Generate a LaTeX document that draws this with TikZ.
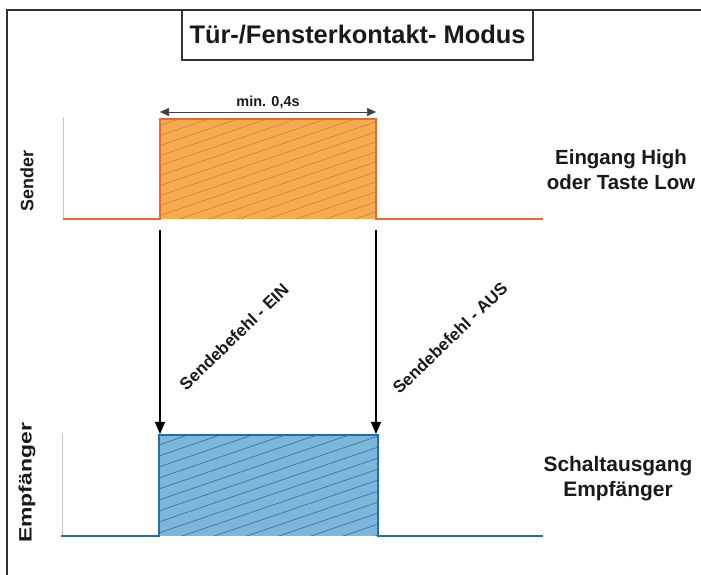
\documentclass[tikz,border=0pt]{standalone}
\usepackage{fontspec}
\setmainfont{Liberation Sans}
\usetikzlibrary{arrows.meta}
\definecolor{ofill}{RGB}{245,172,80}
\definecolor{oline}{RGB}{232,105,45}
\definecolor{ohatch}{RGB}{225,120,40}
\definecolor{bfill}{RGB}{125,182,216}
\definecolor{bline}{RGB}{35,110,170}
\definecolor{framec}{RGB}{50,50,50}
\definecolor{axisc}{RGB}{200,200,200}
\definecolor{txtc}{RGB}{25,25,25}
\tikzset{
  lbl/.style={font=\bfseries\fontsize{20.5}{25}\selectfont, text=txtc, align=center, inner sep=0pt},
  sidelbl/.style={font=\bfseries\fontsize{18}{20}\selectfont, text=txtc, rotate=90, inner sep=0pt},
  cmdlbl/.style={font=\bfseries\fontsize{17}{20}\selectfont, text=txtc, rotate=44, inner sep=0pt},
  cmdarrow/.style={-{Triangle[length=12bp,width=10bp]}, line width=1.1bp, black},
  dimarrow/.style={{Triangle[length=9bp,width=8bp]}-{Triangle[length=9bp,width=8bp]}, line width=0.6bp, black!75},
  axisline/.style={axisc, line width=0.8bp},
}
\begin{document}
\begin{tikzpicture}[x=1bp,y=1bp]
\useasboundingbox (0,0) rectangle (701,575);
% frame
\draw[framec, line width=1.6bp] (7,0) -- (7,565) -- (701,565);
% title
\node[draw=framec, line width=1.3bp, minimum width=351bp, minimum height=50bp, inner sep=0pt,
  font=\bfseries\fontsize{25.5}{30}\selectfont, text=txtc] (title) at (357.5,540) {Tür-/Fensterkontakt- Modus};

% ---------- Sender signal ----------
\draw[axisline] (63,458) -- (63,356);
\fill[ofill] (160,356) rectangle (376,456);
\begin{scope}
  \clip (160,356) rectangle (376,456);
  \foreach \k in {-9,...,11} {
    \draw[ohatch, line width=0.6bp] (150,356+\k*10) -- ++(240,82);
  }
\end{scope}
\draw[oline, line width=1.2bp] (63,356) -- (160,356) -- (160,456) -- (376,456) -- (376,356) -- (543,356);
\coordinate (sL) at (160,463);
\coordinate (sR) at (376,463);
\draw[dimarrow] (sL) -- (sR) node[midway, above=3bp, font=\bfseries\fontsize{14.5}{17}\selectfont, text=txtc, inner sep=0pt] (dimlbl) {min. 0,4s};

% ---------- Receiver signal ----------
\draw[axisline] (62,142) -- (62,39);
\fill[bfill] (159,39) rectangle (378,140);
\begin{scope}
  \clip (159,39) rectangle (378,140);
  \foreach \k in {-9,...,11} {
    \draw[bline, line width=0.6bp] (150,39+\k*11) -- ++(240,82);
  }
\end{scope}
\draw[bline, line width=1.2bp] (61,39) -- (159,39) -- (159,140) -- (378,140) -- (378,39) -- (543,39);

% ---------- command arrows ----------
\coordinate (a1s) at (160,345);
\coordinate (a1e) at (160,141);
\coordinate (a2s) at (376,345);
\coordinate (a2e) at (376,141);
\draw[cmdarrow] (a1s) -- (a1e);
\draw[cmdarrow] (a2s) -- (a2e);
\node[cmdlbl] (ein) at (234,238) {Sendebefehl - EIN};
\node[cmdlbl] (aus) at (450,237) {Sendebefehl - AUS};

% ---------- labels ----------
\node[sidelbl] (sender) at (27,394) {Sender};
\node[sidelbl] (empf) at (27,92) {\scalebox{1.28}[1]{Empfänger}};
\node[lbl] (inlbl) at (621,405) {Eingang High\\oder Taste Low};
\node[lbl, font=\bfseries\fontsize{21}{25}\selectfont] (outlbl) at (618,96) {Schaltausgang\\Empfänger};
\end{tikzpicture}
\end{document}
